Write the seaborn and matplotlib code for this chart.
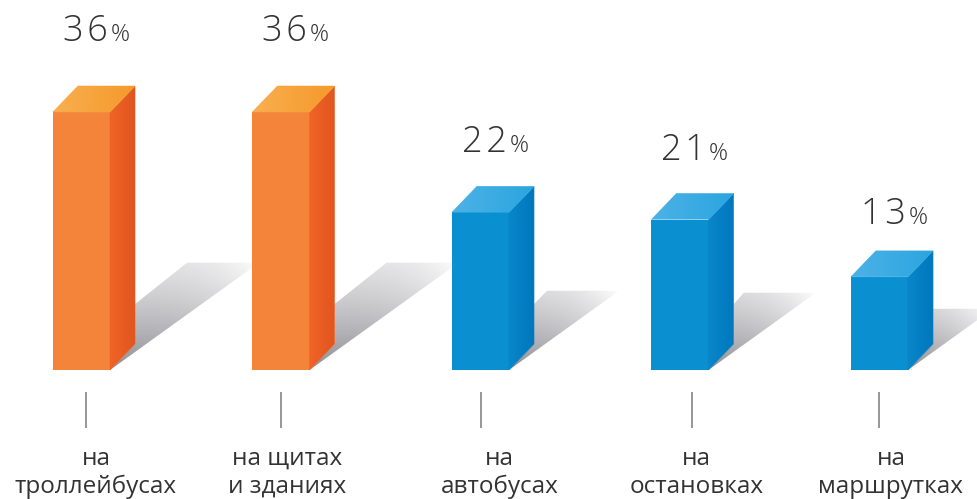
import numpy as np
import pandas as pd
import matplotlib
matplotlib.use("Agg")
import matplotlib.pyplot as plt
import seaborn as sns
from matplotlib.patches import Polygon
from matplotlib.colors import to_rgb

# ---------------- data ----------------
categories = ["на\nтроллейбусах", "на щитах\nи зданиях", "на\nавтобусах",
              "на\nостановках", "на\nмаршрутках"]
values = [36, 36, 22, 21, 13]
groups = ["orange", "orange", "blue", "blue", "blue"]

# ---------------- style ----------------
sns.set_theme(style="white")
plt.rcParams['font.family'] = ['Open Sans', 'DejaVu Sans']

front_col = {"orange": "#F4843A", "blue": "#0A90D0"}
side_cols = {"orange": ("#F16326", "#E0561F"), "blue": ("#0A86CA", "#0077BD")}
top_cols = {"orange": ("#F9AF50", "#F5992B"), "blue": ("#4DB2E6", "#2AA5E0")}
text_col = "#333333"

W, H = 978, 499
PXU_X = 199.5          # pixels per category step
PXU_Y = 258 / 36       # pixels per percent
X0 = 81.5              # pixel position of first category centre
BASE = 370             # pixel row of the bar base

fig = plt.figure(figsize=(W / 100, H / 100), dpi=100)
ax = fig.add_axes([0, 0, 1, 1])

df = pd.DataFrame({"cat": categories, "val": values, "grp": groups})
sns.barplot(data=df, x="cat", y="val", hue="grp", palette=front_col,
            width=0.286, dodge=False, legend=False, errorbar=None,
            saturation=1, linewidth=0, ax=ax)

xlim = (-X0 / PXU_X, (W - X0) / PXU_X)
ylim = (-(H - BASE) / PXU_Y, BASE / PXU_Y)

DX = 25 / PXU_X
DY = 26 / PXU_Y
sx = PXU_X
sy = PXU_Y


def grad_fill(verts, c1, c2, z):
    poly = Polygon(verts, closed=True, facecolor='none', edgecolor='none')
    ax.add_patch(poly)
    xs = [v[0] for v in verts]
    ys = [v[1] for v in verts]
    t = np.linspace(0, 1, 128)[None, :, None]
    a, b = np.array(to_rgb(c1)), np.array(to_rgb(c2))
    arr = a[None, None, :] * (1 - t) + b[None, None, :] * t
    arr = np.repeat(arr, 4, axis=0)
    im = ax.imshow(arr, extent=(min(xs), max(xs), min(ys), max(ys)),
                   origin='lower', aspect='auto', zorder=z,
                   interpolation='bilinear')
    im.set_clip_path(poly)
    edge = Polygon(verts, closed=True, facecolor='none',
                   edgecolor=tuple((a + b) / 2), lw=0.4, zorder=z)
    ax.add_patch(edge)


def shadow(xr, v):
    s = 0.28 * v + 4.9                     # shadow height (units)
    s_px = s * sy
    xD = xr + (s_px / 0.72) / sx
    xE = xD - 72 / sx
    cH = min(0.85 * s, 9.2)
    verts = [(xr, 0), (xr + DX, DY), (xr + DX, cH), (xE, s), (xD, s)]
    poly = Polygon(verts, closed=True, facecolor='none', edgecolor='none')
    ax.add_patch(poly)
    x_lo, x_hi = xr, xD
    y_lo, y_hi = 0, s
    nx, ny = 200, 120
    gx, gy = np.meshgrid(np.linspace(x_lo, x_hi, nx), np.linspace(y_lo, y_hi, ny))
    px = (gx - xr) * sx
    py = gy * sy
    dvec = np.array([(xD - xr) * sx, s_px])
    L = np.hypot(*dvec)
    t = np.clip((px * dvec[0] + py * dvec[1]) / L**2, 0, 1)
    nvec = np.array([-dvec[1], dvec[0]]) / L
    u = np.clip((px * nvec[0] + py * nvec[1]) / 60.0, 0, 1)
    alpha = 0.8 * (1 - t) ** 0.9 * (1 - 0.5 * u)
    img = np.zeros((ny, nx, 4))
    img[..., :3] = (0.45, 0.45, 0.48)
    img[..., 3] = alpha
    im = ax.imshow(img, extent=(x_lo, x_hi, y_lo, y_hi), origin='lower',
                   aspect='auto', zorder=0.5, interpolation='bilinear')
    im.set_clip_path(poly)


label_shift = [14.5, 6.5, 19, 16.5, 11.5]   # pixel nudges of the category text
tick_shift = [4.5, -0.5, 0, 11.5, -0.5]


def ypx(p):
    return (BASE - p) / sy


bars = sorted(ax.patches, key=lambda p: p.get_x())
for i, (p, v, g, cat) in enumerate(zip(bars, values, groups, categories)):
    x = p.get_x()
    w = p.get_width()
    h = p.get_height()
    p.set_zorder(3)
    xr = x + w
    shadow(xr, v)
    # side face
    grad_fill([(xr, 0), (xr + DX, DY), (xr + DX, h + DY), (xr, h)],
              side_cols[g][0], side_cols[g][1], 3)
    # top face
    grad_fill([(x, h), (xr, h), (xr + DX, h + DY), (x + DX, h + DY)],
              top_cols[g][0], top_cols[g][1], 3)
    xc = x + w / 2
    # value label
    yb = 1.109 * v + DY + 2.36
    ax.text(xc + 0.130, yb, "\u200a".join(f"{v}"), ha='right', va='baseline',
            fontsize=26, fontweight='light', color=text_col, zorder=5)
    ax.text(xc + 0.145, yb, "%", ha='left', va='baseline',
            fontsize=17, fontweight='light', color=text_col, zorder=5)
    # tick
    xt = xc + tick_shift[i] / sx
    ax.plot([xt, xt], [ypx(392), ypx(428)], color='#7a7a7a', lw=1.1,
            solid_capstyle='butt', zorder=5)
    # category label
    xl = xc + label_shift[i] / sx
    for j, line in enumerate(cat.split("\n")):
        ax.text(xl, ypx(465 + 28 * j), line, ha='center', va='baseline',
                fontsize=17.5, color=text_col, zorder=5)

ax.set_xlim(*xlim)
ax.set_ylim(*ylim)
ax.axis('off')
fig.savefig("out.png", dpi=100, facecolor='white')
